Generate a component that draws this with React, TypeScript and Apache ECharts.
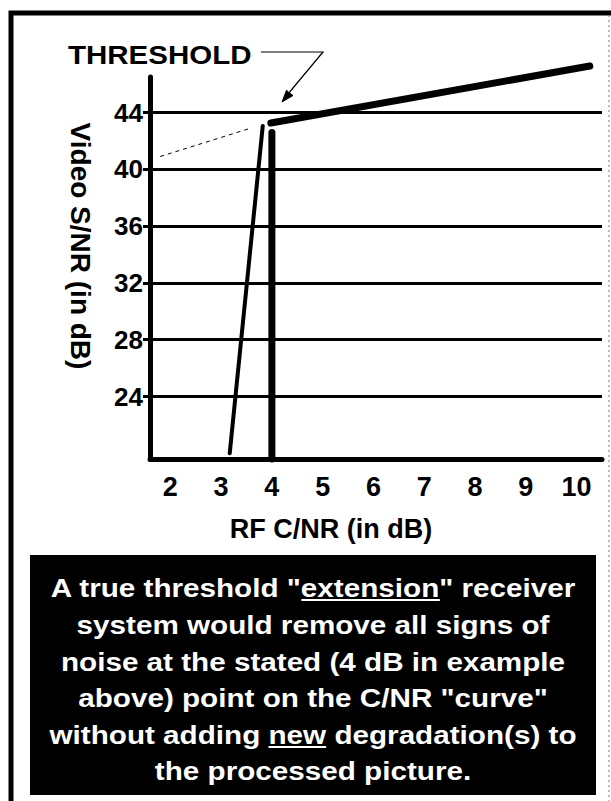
import React, { useEffect, useRef } from 'react';
import * as echarts from 'echarts';

// ---- data ----
const xTickValues = [2, 3, 4, 5, 6, 7, 8, 9, 10];
const yTickValues = [24, 28, 32, 36, 40, 44];
const dashedExtrapolation = [[1.8, 40.9], [3.54, 42.85]];
const conventionalFalloff = [[3.17, 20.0], [3.82, 43.05]];
const thresholdDrop = [[4.0, 19.6], [4.0, 42.6]];
const aboveThreshold = [[3.98, 43.26], [10.26, 47.27]];
const calloutText = 'THRESHOLD';
const xAxisTitle = 'RF C/NR (in dB)';
const yAxisTitle = 'Video S/NR (in dB)';
const noteLines = [
  'A true threshold "extension" receiver',
  'system would remove all signs of',
  'noise at the stated (4 dB in example',
  'above) point on the C/NR "curve"',
  'without adding new degradation(s) to',
  'the processed picture.',
];
const noteUnderlines = [
  { line: 0, prefix: 'A true threshold "', word: 'extension' },
  { line: 4, prefix: 'without adding ', word: 'new' },
];

const FONT = '"Liberation Sans", Arial, Helvetica, sans-serif';

export default function App() {
  const ref = useRef<HTMLDivElement>(null);
  useEffect(() => {
    if (!ref.current) return;
    const chart = echarts.init(ref.current, null, { renderer: 'svg' });

    const ctx = document.createElement('canvas').getContext('2d')!;
    const noteSize = 26;
    ctx.font = `bold ${noteSize}px ${FONT}`;
    const mw = (s: string) => ctx.measureText(s).width;
    const noteScale = 526 / mw(noteLines[0]);
    const boxCx = 313;
    const lineYs = [588, 625, 662, 698, 735, 771];

    const graphics: any[] = [
      {
        type: 'polyline',
        shape: { points: [[11, 801], [11, 13], [611, 13]] },
        style: { stroke: '#000', lineWidth: 5, fill: null },
      },
      {
        type: 'line',
        shape: { x1: 609, y1: 15, x2: 609, y2: 801 },
        style: { stroke: '#777', lineWidth: 1, lineDash: [2, 3] },
      },
      {
        type: 'text',
        x: 68,
        y: 55,
        scaleX: 1.18,
        style: {
          text: calloutText,
          font: `bold 25px ${FONT}`,
          fill: '#000',
          align: 'left',
          verticalAlign: 'middle',
        },
      },
      {
        type: 'polyline',
        shape: { points: [[261, 52], [323, 52], [288, 94]] },
        style: { stroke: '#000', lineWidth: 1.2, fill: null },
      },
      {
        type: 'polygon',
        shape: { points: [[282, 102], [293, 95.5], [287.5, 91.5], [286.6, 90]] },
        style: { fill: '#000', stroke: '#000', lineWidth: 1 },
      },
      {
        type: 'rect',
        shape: { x: 30, y: 555, width: 566, height: 240 },
        style: { fill: '#000' },
      },
    ];

    noteLines.forEach((t, i) => {
      graphics.push({
        type: 'text',
        x: boxCx,
        y: lineYs[i],
        scaleX: noteScale,
        style: {
          text: t,
          font: `bold ${noteSize}px ${FONT}`,
          fill: '#fff',
          align: 'center',
          verticalAlign: 'middle',
        },
      });
    });
    noteUnderlines.forEach((u) => {
      const total = mw(noteLines[u.line]) * noteScale;
      const start = boxCx - total / 2;
      const x0 = start + mw(u.prefix) * noteScale;
      const x1 = x0 + mw(u.word) * noteScale;
      const y = lineYs[u.line] + 12;
      graphics.push({
        type: 'line',
        shape: { x1: x0, y1: y, x2: x1, y2: y },
        style: { stroke: '#fff', lineWidth: 2 },
      });
    });

    const lineSeries = (data: number[][], width: number, dashed = false) => ({
      type: 'line',
      data,
      showSymbol: false,
      symbol: 'none',
      clip: false,
      silent: true,
      lineStyle: {
        color: '#000',
        width,
        type: dashed ? [4, 4] : 'solid',
        cap: dashed ? 'butt' : 'round',
      },
    });

    chart.setOption({
      animation: false,
      backgroundColor: '#fff',
      grid: {
        left: 150,
        top: 77,
        width: 452,
        height: 382,
        containLabel: false,
        outerBoundsMode: 'none',
      },
      xAxis: {
        type: 'value',
        min: 1.6,
        max: 10.5,
        name: xAxisTitle,
        nameLocation: 'middle',
        nameGap: 56,
        nameTextStyle: {
          fontFamily: FONT,
          fontWeight: 'bold',
          fontSize: 27,
          color: '#000',
          padding: [0, 90, 0, 0],
        },
        axisLine: { show: true, lineStyle: { color: '#000', width: 5, cap: 'round' } },
        axisTick: { show: false, customValues: xTickValues },
        axisLabel: {
          customValues: xTickValues,
          fontFamily: FONT,
          fontWeight: 'bold',
          fontSize: 27,
          color: '#000',
          margin: 14,
        },
        splitLine: { show: false },
      },
      yAxis: {
        type: 'value',
        min: 19.6,
        max: 46.5,
        name: yAxisTitle,
        nameLocation: 'middle',
        nameRotate: -90,
        nameGap: 56,
        nameTextStyle: {
          fontFamily: FONT,
          fontWeight: 'bold',
          fontSize: 28,
          color: '#000',
          padding: [0, 44, 0, 0],
        },
        axisLine: { show: true, lineStyle: { color: '#000', width: 5, cap: 'round' } },
        axisTick: {
          show: true,
          customValues: yTickValues,
          length: 7,
          lineStyle: { color: '#000', width: 3 },
        },
        axisLabel: {
          customValues: yTickValues,
          fontFamily: FONT,
          fontWeight: 'bold',
          fontSize: 26,
          color: '#000',
          margin: 7,
        },
        splitLine: { show: true, lineStyle: { color: '#000', width: 3 } },
      },
      series: [
        lineSeries(dashedExtrapolation, 1, true),
        lineSeries(conventionalFalloff, 4),
        lineSeries(thresholdDrop, 7),
        lineSeries(aboveThreshold, 7),
      ],
      graphic: graphics,
    });
    return () => chart.dispose();
  }, []);
  return (
    <div
      ref={ref}
      style={{ position: 'fixed', left: 0, top: 0, width: 611, height: 801, background: '#fff' }}
    />
  );
}
